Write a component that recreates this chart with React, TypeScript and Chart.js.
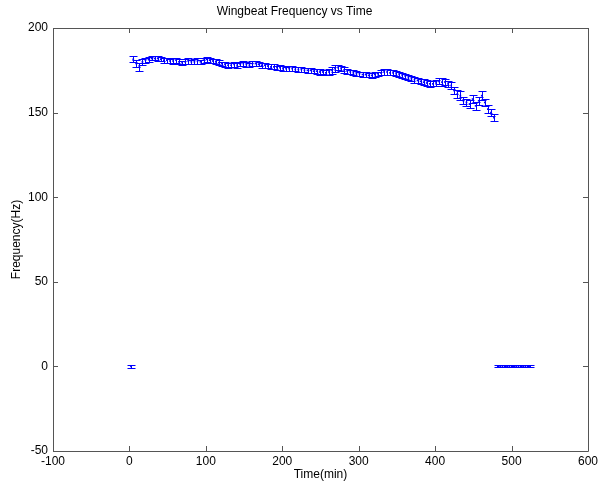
import React, { useEffect, useRef } from 'react';
import { Chart, registerables } from 'chart.js';

Chart.register(...registerables);

// Main flight segment: time (min), frequency (Hz), error (Hz)
const times = [
  5, 9, 13, 17, 21, 25, 29, 33, 37, 41,
  45, 49, 53, 57, 61, 65, 69, 73, 77, 81,
  85, 89, 93, 97, 101, 105, 109, 113, 117, 121,
  125, 129, 133, 137, 141, 145, 149, 153, 157, 161,
  165, 169, 173, 177, 181, 185, 189, 193, 197, 201,
  205, 209, 213, 217, 221, 225, 229, 233, 237, 241,
  245, 249, 253, 257, 261, 265, 269, 273, 277, 281,
  285, 289, 293, 297, 301, 305, 309, 313, 317, 321,
  325, 329, 333, 337, 341, 345, 349, 353, 357, 361,
  365, 369, 373, 377, 381, 385, 389, 393, 397, 401,
  405, 409, 413, 417, 421, 425, 429, 433, 437, 441,
  445, 449, 453, 457, 461, 465, 469, 473, 477,
];

const freqs = [
  181.5, 179, 177, 180, 181, 181.5, 182, 182, 182, 181.5,
  181, 181, 180.5, 180.5, 181, 180, 179.5, 180, 180.5, 180,
  180, 180.5, 180, 181, 181.5, 181, 180.5, 180, 179.5, 179,
  178.5, 178, 178, 178.5, 178, 178.5, 179, 178.5, 178, 179,
  179, 178.5, 178, 178, 177.5, 177, 177, 176.5, 176.5, 176,
  176, 176, 176, 175.5, 175.5, 175.5, 175, 175, 175, 174.5,
  174.5, 174, 174, 173.5, 174, 175, 176, 176.5, 176, 175,
  174.5, 174, 173.5, 173, 173, 172.5, 172.5, 172, 172, 172.5,
  173, 173.5, 174, 174, 173.5, 173.5, 173, 172.5, 172, 171.5,
  170.5, 170, 169.5, 169, 168.5, 168, 167.5, 167, 167, 167.5,
  168.5, 168, 168, 167, 166, 163, 161, 160, 157, 156,
  155, 158, 154, 157, 160, 156, 152, 150, 147,
];

const errs = [
  1.8, 1.8, 2.5, 1.8, 1.5, 1.5, 1.2, 1.2, 1.5, 1.2,
  1.5, 1.5, 1.2, 1.5, 1.5, 1.5, 1.2, 1.5, 1.5, 1.2,
  1.5, 1.5, 1.2, 1.5, 1.5, 1.5, 1.2, 1.5, 1.5, 1.2,
  1.5, 1.5, 1.2, 1.5, 1.5, 1.2, 1.5, 1.5, 1.2, 1.5,
  1.5, 1.2, 1.5, 1.5, 1.2, 1.5, 1.5, 1.2, 1.5, 1.5,
  1.2, 1.5, 1.5, 1.2, 1.5, 1.5, 1.2, 1.5, 1.5, 1.2,
  1.5, 1.5, 1.2, 1.5, 1.5, 2, 2, 1.5, 1.5, 1.8,
  1.5, 1.2, 1.5, 1.5, 1.2, 1.5, 1.5, 1.2, 1.5, 1.5,
  1.2, 1.5, 1.5, 1.8, 1.5, 1.5, 1.5, 1.2, 1.5, 1.5,
  1.5, 1.5, 1.8, 1.5, 1.5, 1.8, 1.5, 1.8, 1.5, 1.8,
  1.8, 2.2, 1.8, 1.8, 2.2, 2.2, 2.2, 2.5, 2.2, 2.2,
  2.2, 2.5, 2.2, 2.5, 2.5, 2.2, 2.2, 2.2, 2.2,
];

// Resting (zero-frequency) segments
const zeroTimes = [2, 482, 485, 488, 491, 494, 497, 500, 503, 506, 509, 512, 515, 518, 521, 524];
const zeroFreqs = [0, 0, 0, 0, 0, 0, 0, 0, 0, 0, 0, 0, 0, 0, 0, 0];
const zeroErrs = [0.8, 0.6, 0.6, 0.6, 0.6, 0.6, 0.6, 0.6, 0.6, 0.6, 0.6, 0.6, 0.6, 0.6, 0.6, 0.6];

const xTicks = [-100, 0, 100, 200, 300, 400, 500, 600];
const yTicks = [-50, 0, 50, 100, 150, 200];

const FONT = '"Liberation Sans", Arial, Helvetica, sans-serif';
const BLUE = '#0000ff';
const AXIS = '#555555';

const errorBarPlugin = {
  id: 'errorBars',
  beforeDatasetsDraw(chart: any) {
    const { ctx, chartArea } = chart;
    const xs = chart.scales.x;
    const ys = chart.scales.y;
    const capHalf = 4;
    ctx.save();
    ctx.beginPath();
    ctx.rect(chartArea.left, chartArea.top, chartArea.right - chartArea.left, chartArea.bottom - chartArea.top);
    ctx.clip();
    ctx.strokeStyle = BLUE;
    ctx.lineWidth = 1;
    chart.data.datasets.forEach((ds: any) => {
      ds.data.forEach((p: any) => {
        const px = Math.round(xs.getPixelForValue(p.x)) + 0.5;
        const yTop = Math.round(ys.getPixelForValue(p.y + p.e)) + 0.5;
        const yBot = Math.round(ys.getPixelForValue(p.y - p.e)) + 0.5;
        ctx.beginPath();
        ctx.moveTo(px, yTop);
        ctx.lineTo(px, yBot);
        ctx.moveTo(px - capHalf, yTop);
        ctx.lineTo(px + capHalf, yTop);
        ctx.moveTo(px - capHalf, yBot);
        ctx.lineTo(px + capHalf, yBot);
        ctx.stroke();
      });
    });
    ctx.restore();
  },
};

const framePlugin = {
  id: 'frame',
  afterDraw(chart: any) {
    const { ctx, chartArea } = chart;
    const xs = chart.scales.x;
    const ys = chart.scales.y;
    const { left, right, top, bottom } = chartArea;
    const tl = 5;
    ctx.save();
    ctx.strokeStyle = AXIS;
    ctx.lineWidth = 1;
    ctx.beginPath();
    ctx.rect(Math.round(left) + 0.5, Math.round(top) + 0.5, Math.round(right - left), Math.round(bottom - top));
    ctx.stroke();
    ctx.beginPath();
    xTicks.forEach((v) => {
      const px = Math.round(xs.getPixelForValue(v)) + 0.5;
      ctx.moveTo(px, bottom);
      ctx.lineTo(px, bottom - tl);
      ctx.moveTo(px, top);
      ctx.lineTo(px, top + tl);
    });
    yTicks.forEach((v) => {
      const py = Math.round(ys.getPixelForValue(v)) + 0.5;
      ctx.moveTo(left, py);
      ctx.lineTo(left + tl, py);
      ctx.moveTo(right, py);
      ctx.lineTo(right - tl, py);
    });
    ctx.stroke();
    ctx.restore();
  },
};

export default function App() {
  const ref = useRef<HTMLCanvasElement | null>(null);

  useEffect(() => {
    document.body.style.margin = '0';
    const canvas = ref.current;
    if (!canvas) return;
    const points = [
      ...times.map((t, i) => ({ x: t, y: freqs[i], e: errs[i] })),
      ...zeroTimes.map((t, i) => ({ x: t, y: zeroFreqs[i], e: zeroErrs[i] })),
    ];
    const font = { family: FONT, size: 12, weight: 'normal' as const };
    const chart = new Chart(canvas, {
      type: 'scatter',
      data: {
        datasets: [
          {
            data: points,
            pointRadius: 1.2,
            pointBackgroundColor: BLUE,
            pointBorderColor: BLUE,
            pointBorderWidth: 0,
            pointStyle: 'rect',
            showLine: false,
          } as any,
        ],
      },
      options: {
        animation: false,
        responsive: false,
        devicePixelRatio: 1,
        layout: { padding: { left: 0, right: 12, top: 0, bottom: 0 } },
        plugins: {
          legend: { display: false },
          tooltip: { enabled: false },
          title: {
            display: true,
            text: 'Wingbeat Frequency vs Time',
            color: '#000',
            font,
            padding: { top: 4, bottom: 9.6 },
          },
        },
        scales: {
          x: {
            type: 'linear',
            min: -100,
            max: 600,
            afterBuildTicks: (s: any) => {
              s.ticks = xTicks.map((v) => ({ value: v }));
            },
            afterFit: (s: any) => {
              s.height = 35;
            },
            grid: { display: false, drawTicks: false },
            border: { display: false },
            ticks: { color: '#000', font, padding: 3, maxRotation: 0, autoSkip: false },
            title: { display: true, text: 'Time(min)', color: '#000', font, padding: { top: 0, bottom: 4 } },
          },
          y: {
            type: 'linear',
            min: -50,
            max: 200,
            afterBuildTicks: (s: any) => {
              s.ticks = yTicks.map((v) => ({ value: v }));
            },
            afterFit: (s: any) => {
              s.width = 53;
            },
            grid: { display: false, drawTicks: false },
            border: { display: false },
            ticks: { color: '#000', font, padding: 5, autoSkip: false },
            title: { display: true, text: 'Frequency(Hz)', color: '#000', font, padding: { top: 9, bottom: 0 } },
          },
        },
      },
      plugins: [errorBarPlugin, framePlugin],
    });
    return () => chart.destroy();
  }, []);

  return <canvas ref={ref} width={601} height={486} style={{ display: 'block', width: 601, height: 486 }} />;
}
